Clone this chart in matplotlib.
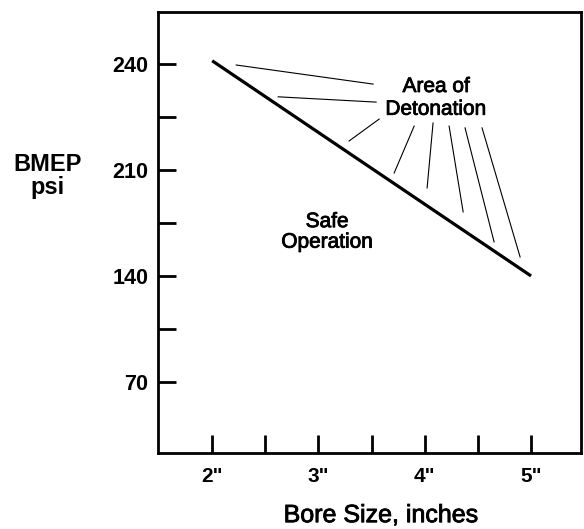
"""BMEP vs bore size: schematic detonation limit."""

import matplotlib

matplotlib.use("Agg")
import matplotlib.pyplot as plt
import matplotlib.patheffects as pe
import numpy as np
from matplotlib.ticker import FixedLocator

plt.rcParams["font.family"] = ["Liberation Sans", "DejaVu Sans"]

# limit line
bore = [2.0, 5.0]
bmep_limit = [240.9, 140.0]

# axis ticks (y axis is not linear in the original, labels sit at even spacing)
xticks_major = [2, 3, 4, 5]
xtick_labels = ['2"', '3"', '4"', '5"']
xticks_minor = [2.5, 3.5, 4.5]
ytick_psi = [70, 140, 210, 240]
ytick_pos = [1, 3, 5, 7]
yticks_minor = [105, 175, 225]

# leader lines from "Area of Detonation" (bore, psi) start -> end
lead_x0 = [2.226, 2.621, 3.571, 3.900, 4.078, 4.229, 4.379, 4.539]
lead_y0 = [239.7, 230.7, 224.4, 222.4, 223.3, 222.4, 221.9, 221.9]
lead_x1 = [3.514, 3.542, 3.288, 3.712, 4.022, 4.361, 4.652, 4.897]
lead_y1 = [234.3, 229.2, 218.2, 208.0, 198.1, 182.3, 162.5, 152.5]


def forward(v):
    v = np.asarray(v, dtype=float)
    flat = np.atleast_1d(v).ravel()
    out = np.interp(flat, ytick_psi, ytick_pos)
    lo = flat < ytick_psi[0]
    hi = flat > ytick_psi[-1]
    s_lo = (ytick_pos[1] - ytick_pos[0]) / (ytick_psi[1] - ytick_psi[0])
    s_hi = (ytick_pos[-1] - ytick_pos[-2]) / (ytick_psi[-1] - ytick_psi[-2])
    out[lo] = ytick_pos[0] + (flat[lo] - ytick_psi[0]) * s_lo
    out[hi] = ytick_pos[-1] + (flat[hi] - ytick_psi[-1]) * s_hi
    return out.reshape(v.shape)


def inverse(p):
    p = np.asarray(p, dtype=float)
    flat = np.atleast_1d(p).ravel()
    out = np.interp(flat, ytick_pos, ytick_psi)
    lo = flat < ytick_pos[0]
    hi = flat > ytick_pos[-1]
    s_lo = (ytick_psi[1] - ytick_psi[0]) / (ytick_pos[1] - ytick_pos[0])
    s_hi = (ytick_psi[-1] - ytick_psi[-2]) / (ytick_pos[-1] - ytick_pos[-2])
    out[lo] = ytick_psi[0] + (flat[lo] - ytick_pos[0]) * s_lo
    out[hi] = ytick_psi[-1] + (flat[hi] - ytick_pos[-1]) * s_hi
    return out.reshape(p.shape)


# the scanned original has slightly heavy regular text
heavy = [pe.withStroke(linewidth=0.6, foreground="black")]

fig = plt.figure(figsize=(5.84, 5.29), dpi=100)
ax = fig.add_axes([0.2705, 0.1437, 0.9949 - 0.2705, 0.9773 - 0.1437])
ax.set_yscale("function", functions=(forward, inverse))

ax.plot(bore, bmep_limit, color="black", lw=2.3, solid_capstyle="butt")
for x0, y0, x1, y1 in zip(lead_x0, lead_y0, lead_x1, lead_y1):
    ax.plot([x0, x1], [y0, y1], color="black", lw=0.8)

ax.text(4.107, 230.4, "Area of\nDetonation", ha="center", va="center",
        fontsize=15, linespacing=1.25, path_effects=heavy)
ax.text(3.082, 169.1, "Safe\nOperation", ha="center", va="center",
        fontsize=15, linespacing=1.1, path_effects=heavy)

ax.set_xlim(1.49, 5.47)
ax.set_ylim(23.1, 254.7)

ax.xaxis.set_major_locator(FixedLocator(xticks_major))
ax.xaxis.set_minor_locator(FixedLocator(xticks_minor))
ax.set_xticklabels(xtick_labels)
ax.yaxis.set_major_locator(FixedLocator(ytick_psi))
ax.yaxis.set_minor_locator(FixedLocator(yticks_minor))
ax.set_yticklabels([str(v) for v in ytick_psi])

ax.tick_params(which="both", direction="in", length=13, width=2,
               top=False, right=False)
ax.tick_params(axis="x", which="major", pad=10, labelsize=15)
ax.tick_params(axis="y", which="major", pad=7, labelsize=15.5)
for lab in ax.get_xticklabels() + ax.get_yticklabels():
    lab.set_fontweight("bold")

for sp in ax.spines.values():
    sp.set_linewidth(2)

ax.set_xlabel("Bore Size, inches", fontsize=18, path_effects=heavy)
ax.xaxis.label.set_va("center")
ax.xaxis.set_label_coords(0.527, -0.141)
ax.set_ylabel("BMEP\npsi", fontsize=17, fontweight="bold", rotation=0,
              ha="center", va="center", linespacing=1.0)
ax.yaxis.set_label_coords(-0.262, 0.628)

fig.savefig("out.png", dpi=100)
plt.close(fig)
